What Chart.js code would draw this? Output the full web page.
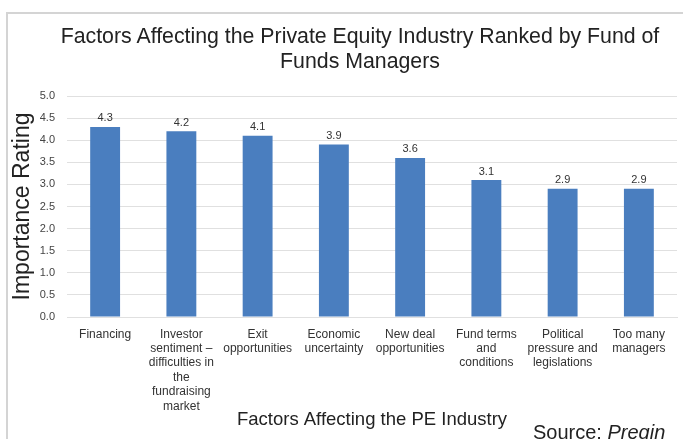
<!DOCTYPE html>
<html>
<head>
<meta charset="utf-8">
<script src="https://cdn.jsdelivr.net/npm/chart.js@4/dist/chart.umd.min.js"></script>
<style>
  html, body { margin: 0; padding: 0; background: #fff; overflow: hidden; }
  #wrap { position: relative; width: 683px; height: 439px; }
  #frame { position: absolute; left: 6px; top: 12px; width: 700px; height: 460px; border-left: 2px solid #d4d4d4; border-top: 2px solid #d4d4d4; }
  #title { position: absolute; left: 60px; width: 600px; top: 24px; text-align: center; font: 21.3px/25px "Liberation Sans", Arial, sans-serif; color: #222; white-space: nowrap; }
  #source { position: absolute; left: 533px; top: 421px; font: 20px "Liberation Sans", Arial, sans-serif; color: #222; white-space: nowrap; }
  canvas { position: absolute; left: 0; top: 0; }
</style>
</head>
<body>
<div id="wrap">
  <div id="frame"></div>
  <canvas id="chart" width="683" height="439"></canvas>
  <div id="title">Factors Affecting the Private Equity Industry Ranked by Fund of<br>Funds Managers</div>
  <div id="source">Source: <i>Preqin</i></div>
</div>
<script>
const categories = [
  ['Financing'],
  ['Investor', 'sentiment –', 'difficulties in', 'the', 'fundraising', 'market'],
  ['Exit', 'opportunities'],
  ['Economic', 'uncertainty'],
  ['New deal', 'opportunities'],
  ['Fund terms', 'and', 'conditions'],
  ['Political', 'pressure and', 'legislations'],
  ['Too many', 'managers']
]
const ratings = [4.3, 4.2, 4.1, 3.9, 3.6, 3.1, 2.9, 2.9]
const yTicks = [0, 0.5, 1, 1.5, 2, 2.5, 3, 3.5, 4, 4.5, 5]

const font = '"Liberation Sans", Arial, sans-serif'

// value labels above each bar
const valueLabels = {
  id: 'valueLabels',
  afterDatasetsDraw(chart) {
    const ctx = chart.ctx
    const meta = chart.getDatasetMeta(0)
    ctx.save()
    ctx.font = '11px ' + font
    ctx.fillStyle = '#333'
    ctx.textAlign = 'center'
    ctx.textBaseline = 'bottom'
    meta.data.forEach((bar, i) => {
      ctx.fillText(ratings[i].toFixed(1), bar.x, bar.y - 3)
    })
    ctx.restore()
  }
}

new Chart(document.getElementById('chart'), {
  type: 'bar',
  data: {
    labels: categories,
    datasets: [{
      data: ratings,
      backgroundColor: '#4a7ebf',
      barPercentage: 0.49,
      categoryPercentage: 0.8
    }]
  },
  options: {
    responsive: false,
    animation: false,
    layout: { padding: { left: 9, right: 6, top: 96, bottom: 8 } },
    scales: {
      y: {
        min: 0,
        max: 5,
        afterBuildTicks: axis => { axis.ticks = yTicks.map(v => ({ value: v })) },
        afterFit: axis => { axis.width = 58 },
        ticks: {
          callback: v => v.toFixed(1),
          font: { family: font, size: 11 },
          color: '#444',
          padding: 12
        },
        grid: { color: '#e0e0e0', drawTicks: false },
        border: { display: false },
        title: {
          display: true,
          text: 'Importance Rating',
          font: { family: font, size: 23, lineHeight: 1.2 },
          color: '#222',
          padding: { top: 0, bottom: 3 }
        }
      },
      x: {
        afterFit: axis => { axis.height = 114 },
        grid: { display: false },
        border: { color: '#e0e0e0' },
        ticks: {
          font: { family: font, size: 12, lineHeight: 1.2 },
          color: '#333',
          maxRotation: 0,
          autoSkip: false,
          padding: 2
        },
        title: {
          display: true,
          text: 'Factors Affecting the PE Industry',
          font: { family: font, size: 18.5, lineHeight: 1.2 },
          color: '#222',
          padding: { top: 0, bottom: 0 }
        }
      }
    },
    plugins: {
      legend: { display: false },
      tooltip: { enabled: false }
    }
  },
  plugins: [valueLabels]
})
</script>
</body>
</html>
